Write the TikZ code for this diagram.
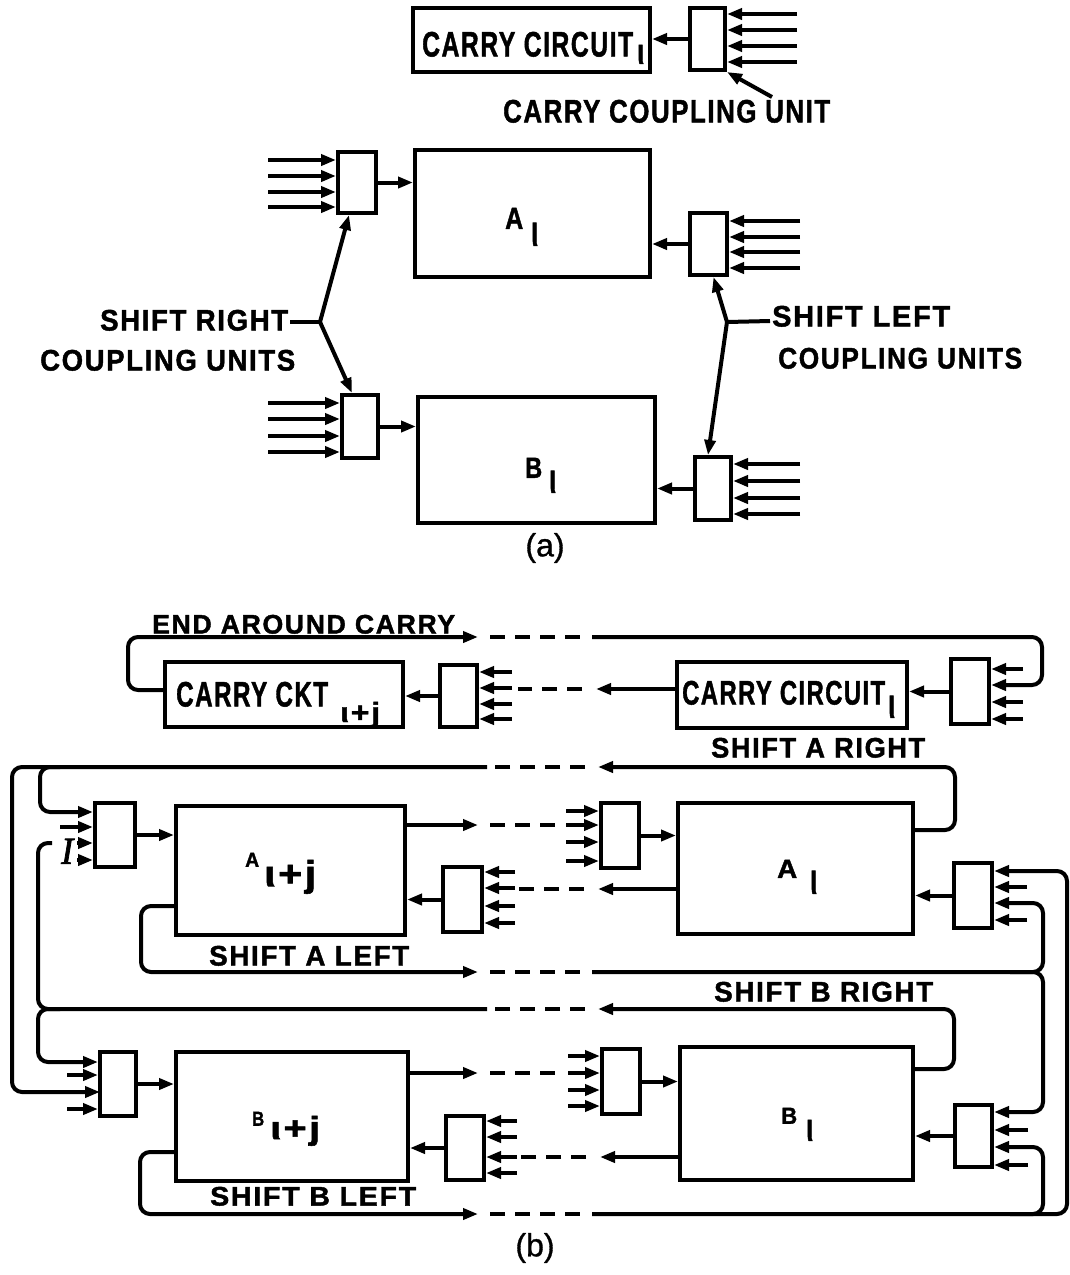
\documentclass[tikz,border=0pt]{standalone}
\usepackage{fontspec}
\setmainfont{Liberation Sans}
\newfontfamily\serifit{Liberation Serif}
\usetikzlibrary{arrows.meta,fit}
\newcommand\tx[3]{\resizebox*{#1pt}{#2pt}{\bfseries\addfontfeatures{LetterSpace=6,FakeBold=1.5}#3}}
\newcommand\ins[3]{\foreach \yy in {#3}{\draw[arr] (#2,\yy) -- (#1.east |- 0,\yy);}}
\newcommand\insL[3]{\foreach \yy in {#3}{\draw[arr] (#2,\yy) -- (#1.west |- 0,\yy);}}
\tikzset{
  box/.style={draw, line width=4pt, inner sep=0pt},
  wire/.style={line width=4pt},
  arr/.style={wire, -{Triangle[length=15pt,width=11pt]}},
  dsh/.style={wire, dash pattern=on 15pt off 10pt},
  txt/.style={inner sep=0pt, anchor=south west},
  rc/.style={rounded corners=10pt}
}
\begin{document}
\begin{tikzpicture}[x=1pt,y=-1pt]
\useasboundingbox (0,0) rectangle (1070,1275);
\fill[white] (0,0) rectangle (1070,1275);

% ================= (a) =================
\node[box, fit={(413,8)(650,72)}] (cc) {};
\node[box, fit={(690,8)(725,70)}] (cu0) {};
\draw[arr] (cu0.west) -- (cc.east |- cu0.west);
\ins{cu0}{797}{14,30,46,62}
\coordinate (p0) at (772,97);
\draw[arr] (p0) -- (cu0.south east);
\node[txt] (tcc) at (422,57) {\tx{211}{25}{CARRY CIRCUIT}};
\node[txt] (tcci) at (637,64) {\tx{7}{19}{ι}};
\node[txt] (tccu) at (503,123) {\tx{327}{23}{CARRY COUPLING UNIT}};

\node[box, fit={(415,150)(650,277)}] (A0) {};
\node[box, fit={(338,152)(376,213)}] (u1) {};
\node[box, fit={(690,213)(727,275)}] (u2) {};
\insL{u1}{268}{160,176,192,207}
\draw[arr] (u1.east) -- (A0.west |- u1.east);
\ins{u2}{800}{221,237,252,268}
\draw[arr] (u2.west) -- (A0.east |- u2.west);
\node[txt] (tA0) at (505,229) {\tx{18}{21}{A}};
\node[txt] (tA0i) at (531,246) {\tx{7}{23}{ι}};

\node[box, fit={(418,397)(655,523)}] (B0) {};
\node[box, fit={(342,395)(378,458)}] (u3) {};
\node[box, fit={(695,457)(731,520)}] (u4) {};
\insL{u3}{268}{403,419,436,452}
\draw[arr] (u3.east) -- (B0.west |- u3.east);
\ins{u4}{800}{464,481,498,514}
\draw[arr] (u4.west) -- (B0.east |- u4.west);
\node[txt] (tB0) at (525,478) {\tx{17}{20}{B}};
\node[txt] (tB0i) at (549,493) {\tx{7}{22}{ι}};

\coordinate (j1) at (320,322);
\coordinate (j1t) at (290,322);
\draw[wire] (j1t) -- (j1);
\draw[arr] (j1) -- ([xshift=-8pt]u1.south);
\draw[arr] (j1) -- ([xshift=-8pt]u3.north);
\node[txt] (tsr) at (100,331) {\tx{188}{21}{SHIFT RIGHT}};
\node[txt] (tcu1) at (40,371) {\tx{255}{21}{COUPLING UNITS}};

\coordinate (j2) at (727,322);
\coordinate (j2t) at (770,321);
\draw[wire] (j2) -- (j2t);
\draw[arr] (j2) -- ([xshift=5pt]u2.south);
\draw[arr] (j2) -- ([xshift=-5pt]u4.north);
\node[txt] (tsl) at (772,327) {\tx{178}{21}{SHIFT LEFT}};
\node[txt] (tcu2) at (778,369) {\tx{244}{21}{COUPLING UNITS}};

\node (la) at (545,548) {\fontsize{32}{36}\selectfont\addfontfeatures{FakeBold=1}(a)};

% ================= (b) =================
% carry row
\node[box, fit={(165,662)(403,727)}] (ckt2) {};
\node[box, fit={(440,665)(477,727)}] (cuc2) {};
\node[box, fit={(677,662)(907,728)}] (ckt1) {};
\node[box, fit={(951,659)(989,724)}] (cuc1) {};
\draw[arr] (cuc2.west) -- (ckt2.east |- cuc2.west);
\draw[arr] (cuc1.west) -- (ckt1.east |- cuc1.west);
\ins{cuc2}{512}{672,688,704,719}
\ins{cuc1}{1023}{669,702,719}
\node[txt] (tck2) at (176,707) {\tx{152}{25}{CARRY CKT}};
\node[txt] (tck2i) at (340,728) {\tx{40}{26}{ι+j}};
\node[txt] (tck1) at (682,705) {\tx{203}{24}{CARRY CIRCUIT}};
\node[txt] (tck1i) at (888,718) {\tx{7}{22}{ι}};
\node[txt] (teac) at (152,634) {\tx{303}{19}{END AROUND CARRY}};

% end around carry
\draw[arr, rc] (ckt2.west |- 0,690) -- (128,690) -- (128,637) -- (478,637);
\draw[dsh] (490,637) -- (585,637);
\draw[arr, rc] (592,637) -- (1042,637) -- (1042,685) -- (cuc1.east |- 0,685);
% carry from ckt1 to cuc2
\draw[arr] (ckt1.west |- 0,689) -- (596,689);
\draw[dsh] (582,689) -- (518,689);

% A row
\node[box, fit={(176,806)(405,935)}] (A2) {};
\node[box, fit={(95,803)(135,867)}] (cuA2L) {};
\node[box, fit={(443,867)(482,932)}] (cuA2R) {};
\node[box, fit={(678,803)(913,934)}] (A1) {};
\node[box, fit={(601,803)(639,868)}] (cuA1L) {};
\node[box, fit={(954,863)(992,928)}] (cuA1R) {};
\draw[arr] (cuA2L.east) -- (A2.west |- cuA2L.east);
\draw[arr] (cuA2R.west) -- (A2.east |- cuA2R.west);
\draw[arr] (cuA1L.east) -- (A1.west |- cuA1L.east);
\draw[arr] (cuA1R.west) -- (A1.east |- cuA1R.west);
\insL{cuA2L}{60}{827}
\insL{cuA2L}{77}{843,860}
\ins{cuA2R}{515}{872,888,906,923}
\insL{cuA1L}{566}{811,825,842,861}
\ins{cuA1R}{1027}{887,920}
\node[txt] (tA2) at (245,867) {\tx{14}{14}{A}};
\node[txt] (tA2i) at (264,894) {\tx{52}{34}{ι+j}};
\node[txt] (tA1) at (777,878) {\tx{20}{18}{A}};
\node[txt] (tA1i) at (810,894) {\tx{7}{23}{ι}};
\node[txt] (tI) at (61,864) {\resizebox*{12pt}{25pt}{\serifit\itshape\addfontfeatures{FakeBold=2}I}};

\draw[arr] (A2.east |- 0,825) -- (478,825);
\draw[dsh] (490,825) -- (560,825);
\draw[arr] (A1.west |- 0,889) -- (598,889);
\draw[dsh] (584,889) -- (518,889);

% shift A right
\node[txt] (tsar) at (711,758) {\tx{214}{20}{SHIFT A RIGHT}};
\draw[arr, rc] (A1.east |- 0,830) -- (955,830) -- (955,767) -- (598,767);
\draw[dsh] (585,767) -- (492,767);
\draw[arr, rc] (487,767) -- (12,767) -- (12,1092) -- (100,1092);
\draw[arr, rc] (60,767) -- (40,767) -- (40,812) -- (cuA2L.west |- 0,812);

% shift A left
\node[txt] (tsal) at (209,966) {\tx{200}{20}{SHIFT A LEFT}};
\draw[arr, rc] (A2.west |- 0,906) -- (141,906) -- (141,972) -- (478,972);
\draw[dsh] (490,972) -- (585,972);
\draw[arr, rc] (592,972) -- (1043,972) -- (1043,903) -- (cuA1R.east |- 0,903);

% B row
\node[box, fit={(176,1052)(408,1181)}] (B2) {};
\node[box, fit={(100,1052)(136,1116)}] (cuB2L) {};
\node[box, fit={(446,1116)(484,1180)}] (cuB2R) {};
\node[box, fit={(680,1047)(913,1180)}] (B1) {};
\node[box, fit={(602,1049)(640,1114)}] (cuB1L) {};
\node[box, fit={(955,1105)(992,1167)}] (cuB1R) {};
\draw[arr] (cuB2L.east) -- (B2.west |- cuB2L.east);
\draw[arr] (cuB2R.west) -- (B2.east |- cuB2R.west);
\draw[arr] (cuB1L.east) -- (B1.west |- cuB1L.east);
\draw[arr] (cuB1R.west) -- (B1.east |- cuB1R.west);
\insL{cuB2L}{67}{1075,1109}
\ins{cuB2R}{517}{1121,1137,1157,1173}
\insL{cuB1L}{568}{1056,1073,1090,1106}
\ins{cuB1R}{1028}{1130,1165}
\node[txt] (tB2) at (252,1126) {\tx{12}{14}{B}};
\node[txt] (tB2i) at (270,1146) {\tx{50}{30}{ι+j}};
\node[txt] (tB1) at (781,1124) {\tx{16}{16}{B}};
\node[txt] (tB1i) at (806,1141) {\tx{7}{21}{ι}};

\draw[arr, rc] (1010,972) -- (1043,972) -- (1043,1112) -- (cuB1R.east |- 0,1112);

\draw[arr] (B2.east |- 0,1073) -- (478,1073);
\draw[dsh] (490,1073) -- (562,1073);
\draw[arr] (B1.west |- 0,1157) -- (600,1157);
\draw[dsh] (586,1157) -- (520,1157);

% shift B right
\node[txt] (tsbr) at (714,1002) {\tx{219}{20}{SHIFT B RIGHT}};
\draw[arr, rc] (B1.east |- 0,1069) -- (954,1069) -- (954,1009) -- (598,1009);
\draw[dsh] (585,1009) -- (492,1009);
\draw[wire, rc] (487,1009) -- (38,1009) -- (38,843) -- (52,843);
\draw[arr, rc] (60,1009) -- (38,1009) -- (38,1062) -- (cuB2L.west |- 0,1062);

% shift B left
\node[txt] (tsbl) at (210,1206) {\tx{206}{19}{SHIFT B LEFT}};
\draw[arr, rc] (B2.west |- 0,1152) -- (140,1152) -- (140,1214) -- (478,1214);
\draw[dsh] (490,1214) -- (585,1214);
\draw[arr, rc] (592,1214) -- (1067,1214) -- (1067,871) -- (cuA1R.east |- 0,871);
\draw[arr, rc] (1010,1214) -- (1043,1214) -- (1043,1147) -- (cuB1R.east |- 0,1147);

\node (lb) at (535,1248) {\fontsize{32}{36}\selectfont\addfontfeatures{FakeBold=1}(b)};
\end{tikzpicture}
\end{document}
